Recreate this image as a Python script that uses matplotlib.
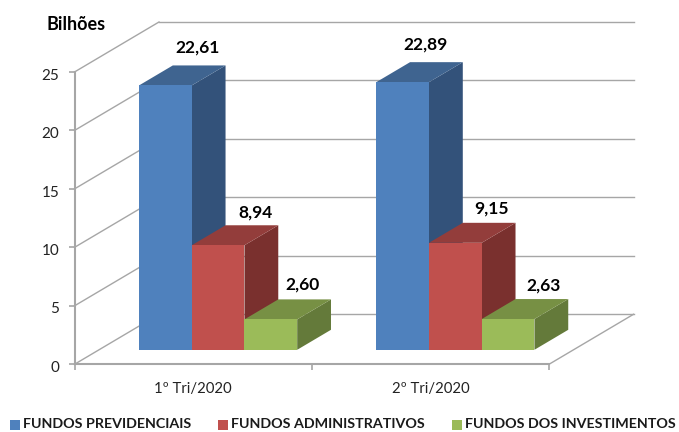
import matplotlib
matplotlib.use("Agg")
import matplotlib.pyplot as plt
from matplotlib.patches import Polygon, Rectangle
from matplotlib.transforms import ScaledTranslation

plt.rcParams["font.family"] = ["Lato", "DejaVu Sans"]

categories = ["1º Tri/2020", "2º Tri/2020"]
series_names = ["FUNDOS PREVIDENCIAIS", "FUNDOS ADMINISTRATIVOS", "FUNDOS DOS INVESTIMENTOS"]
previdenciais = [22.61, 22.89]
administrativos = [8.94, 9.15]
investimentos = [2.60, 2.63]
value_labels = [["22,61", "22,89"], ["8,94", "9,15"], ["2,60", "2,63"]]
y_ticks = [0, 5, 10, 15, 20, 25]

front_colors = ["#4F81BD", "#C0504D", "#9BBB59"]
top_colors = ["#3F6490", "#933D3B", "#779044"]
side_colors = ["#33527A", "#7A302E", "#647A3A"]
grid_color = "#A6A6A6"

# label offsets from the bar front top centre, in pixels
label_dx = [[32, 23], [37, 36], [32, 35]]
label_dy = [[38, 38], [33, 34], [35, 34]]

W, H = 679, 432
fig = plt.figure(figsize=(W / 100, H / 100), dpi=100)
ax = fig.add_axes([74.5 / W, (H - 364.3) / H, 474.5 / W, 292.3 / H])
ax.set_xlim(0, 2)
ax.set_ylim(0, 25)
ax.patch.set_alpha(0)

# depth axis: z=1 is the back wall
DX = 84.5 / 237.25
DY = 50 / 11.69


def proj(x, y, z):
    return x + DX * z, y + DY * z


def line3d(p0, p1):
    a = proj(*p0)
    b = proj(*p1)
    ax.plot([a[0], b[0]], [a[1], b[1]], color=grid_color, lw=1, clip_on=False, zorder=1)


# walls
for v in y_ticks:
    line3d((0, v, 0), (0, v, 1))
    line3d((0, v, 1), (2, v, 1))
line3d((2, 0, 0), (2, 0, 1))

# bars
bar_w = 1 / 4.5
z0, z1 = 0.29, 0.69
all_series = [previdenciais, administrativos, investimentos]
for g in range(len(categories)):
    start = g + 0.75 * bar_w + 0.002
    for s, vals in enumerate(all_series):
        v = vals[g]
        x0 = start + s * bar_w
        x1 = x0 + bar_w
        zo = 3 + g * 3 + s
        ax.add_patch(Polygon([proj(x1, 0, z0), proj(x1, 0, z1), proj(x1, v, z1), proj(x1, v, z0)],
                             fc=side_colors[s], ec="none", clip_on=False, zorder=zo))
        ax.add_patch(Polygon([proj(x0, v, z0), proj(x1, v, z0), proj(x1, v, z1), proj(x0, v, z1)],
                             fc=top_colors[s], ec="none", clip_on=False, zorder=zo))
        ax.add_patch(Polygon([proj(x0, 0, z0), proj(x1, 0, z0), proj(x1, v, z0), proj(x0, v, z0)],
                             fc=front_colors[s], ec="none", clip_on=False, zorder=zo))
        ax.annotate(value_labels[s][g], xy=proj((x0 + x1) / 2, v, z0),
                    xytext=(label_dx[s][g], label_dy[s][g]), textcoords="offset pixels",
                    ha="center", va="center", fontsize=12.5, fontweight="bold",
                    color="black", zorder=20, annotation_clip=False)

# axes
for side in ["top", "right"]:
    ax.spines[side].set_visible(False)
for side in ["left", "bottom"]:
    ax.spines[side].set_color(grid_color)
    ax.spines[side].set_linewidth(1.5)
ax.set_yticks(y_ticks)
ax.set_xticks([0, 1, 2])
ax.set_xticklabels([])
ax.set_xticks([0.5, 1.5], minor=True)
ax.set_xticklabels(categories, minor=True, fontsize=10.7, color="#222222")
ax.tick_params(axis="x", which="major", length=4, color=grid_color, width=1.2)
ax.tick_params(axis="x", which="minor", length=0, pad=12.5)
ax.tick_params(axis="y", length=4, color=grid_color, width=1.2, labelsize=11, pad=7, labelcolor="#222222")
for lab in ax.get_yticklabels():
    lab.set_transform(lab.get_transform() + ScaledTranslation(0, -1.5 / 72, fig.dpi_scale_trans))

fig.text(46 / W, 1 - 25 / H, "Bilhões", fontsize=13, fontweight="bold", va="center", ha="left")

# legend
legend_boxes = [10, 218, 452]
legend_text = [23, 231, 465]
for name, c, bx, tx in zip(series_names, front_colors, legend_boxes, legend_text):
    fig.add_artist(Rectangle((bx / W, 1 - 430 / H), 10 / W, 10 / H, fc=c, ec="none",
                             transform=fig.transFigure))
    fig.text(tx / W, 1 - 424.5 / H, name, fontsize=10.3, fontweight="bold", va="center", ha="left",
             color="#1a1a1a")

fig.savefig("out.png", dpi=100)
